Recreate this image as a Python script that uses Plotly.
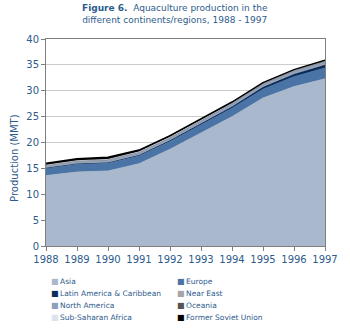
import plotly.graph_objects as go

# Aquaculture production (million metric tonnes) by region, 1988-1997
years = [1988, 1989, 1990, 1991, 1992, 1993, 1994, 1995, 1996, 1997]

asia = [13.6, 14.3, 14.5, 15.9, 18.7, 21.9, 25.0, 28.6, 30.8, 32.3]
europe = [1.4, 1.5, 1.5, 1.5, 1.5, 1.5, 1.6, 1.7, 1.9, 2.1]
latin_america = [0.15, 0.17, 0.18, 0.22, 0.26, 0.30, 0.38, 0.45, 0.55, 0.62]
near_east = [0.05, 0.05, 0.06, 0.06, 0.06, 0.07, 0.07, 0.08, 0.09, 0.10]
north_america = [0.35, 0.38, 0.40, 0.41, 0.42, 0.43, 0.44, 0.45, 0.47, 0.49]
oceania = [0.05, 0.06, 0.06, 0.07, 0.07, 0.08, 0.09, 0.10, 0.10, 0.11]
sub_saharan = [0.02, 0.02, 0.03, 0.03, 0.03, 0.04, 0.04, 0.04, 0.05, 0.05]
former_ussr = [0.35, 0.38, 0.40, 0.35, 0.30, 0.25, 0.20, 0.15, 0.12, 0.12]

region_names = ["Asia", "Europe", "Latin America & Caribbean", "Near East",
                "North America", "Oceania", "Sub-Saharan Africa",
                "Former Soviet Union"]
region_values = [asia, europe, latin_america, near_east, north_america,
                 oceania, sub_saharan, former_ussr]
region_colors = ["#aab8cd", "#4a74a5", "#0a2d5e", "#a6a6a6",
                 "#8da0bd", "#555555", "#dde3ee", "#000000"]

TEXT = "#2e5b8c"
FONT = "DejaVu Sans"

# plot area in pixels: x 46..333, y 39..246
PLOT_H = 207.0


def py(pixel_y):
    """Convert a pixel row to paper y."""
    return 1 - (pixel_y - 39) / PLOT_H


fig = go.Figure()
for name, vals, col in zip(region_names, region_values, region_colors):
    fig.add_trace(go.Scatter(
        x=years, y=vals, name=name, stackgroup="regions", mode="lines",
        line=dict(color=col, width=0.8 if name != "Former Soviet Union" else 1.5),
        fillcolor=col, showlegend=False, hoverinfo="x+y+name",
    ))

# Compact two-column key under the plot
legend_cols = [0.012, 0.462]
legend_rows = [281, 293, 305, 317]
for i, (name, col) in enumerate(zip(region_names, region_colors)):
    r, c = divmod(i, 2)
    fig.add_annotation(
        xref="paper", yref="paper",
        x=legend_cols[c], y=py(legend_rows[r]),
        xanchor="left", yanchor="middle", showarrow=False,
        text=f"<span style='color:{col};font-size:8px'>■</span>\u2009{name}",
        font=dict(family=FONT, size=7.5, color=TEXT),
    )

# Y-axis title
fig.add_annotation(
    xref="paper", yref="paper", x=-33 / 287, y=py(158),
    xanchor="center", yanchor="middle", showarrow=False, textangle=-90,
    text="Production (MMT)", font=dict(family=FONT, size=10, color=TEXT),
)

# Figure caption
fig.add_annotation(
    xref="paper", yref="paper", x=(179 - 46) / 287, y=py(1),
    xanchor="center", yanchor="top", showarrow=False, align="center",
    text="<b>Figure 6.</b>  Aquaculture production in the<br>different continents/regions, 1988 - 1997",
    font=dict(family=FONT, size=9, color=TEXT),
)

fig.update_layout(
    width=350, height=328,
    margin=dict(l=46, r=17, t=39, b=82),
    paper_bgcolor="white", plot_bgcolor="white",
    font=dict(family=FONT, color=TEXT),
    showlegend=False,
)
fig.update_xaxes(
    range=[1988, 1997], tickmode="array", tickvals=years,
    ticktext=[str(y) for y in years],
    showgrid=False, showline=True, linecolor="#7f7f7f", linewidth=1,
    mirror=True, ticks="outside", ticklen=4, tickcolor="#7f7f7f",
    tickfont=dict(family=FONT, size=10, color=TEXT),
)
fig.update_yaxes(
    range=[0, 40], dtick=5, showgrid=True, gridcolor="#cccccc",
    gridwidth=1, showline=True, linecolor="#7f7f7f", linewidth=1,
    mirror=True, ticks="outside", ticklen=4, tickcolor="#7f7f7f",
    tickfont=dict(family=FONT, size=10, color=TEXT), zeroline=False,
)

fig.write_html("out.html")
